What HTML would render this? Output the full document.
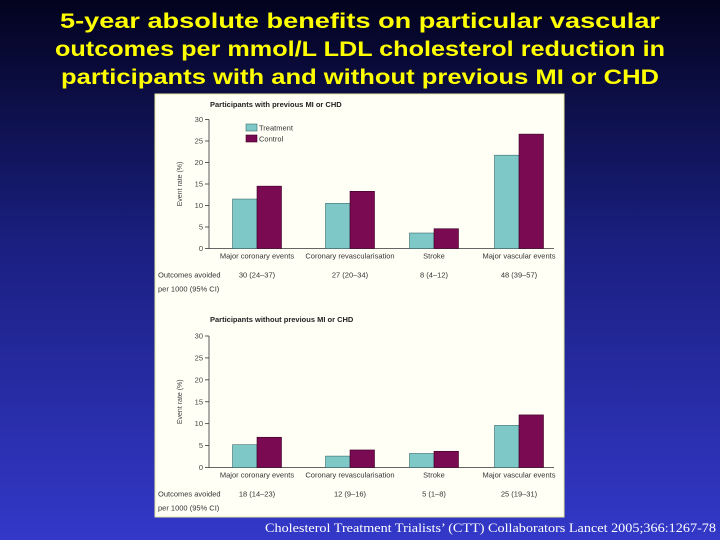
<!DOCTYPE html>
<html><head><meta charset="utf-8"><style>
body{margin:0;width:720px;height:540px;overflow:hidden;}
svg{display:block;font-family:"Liberation Sans",sans-serif;}
</style></head><body>
<svg id="s" width="720" height="540" viewBox="0 0 720 540">
<defs><linearGradient id="bg" x1="0" y1="0" x2="0" y2="1">
<stop offset="0" stop-color="#03031e"/><stop offset="0.45" stop-color="#1a1f80"/><stop offset="1" stop-color="#3338c8"/></linearGradient></defs>
<rect width="720" height="540" fill="url(#bg)"/>
<g fill="#ffff00" font-weight="bold" font-size="21" text-anchor="middle">
<text x="360" y="28" textLength="600" lengthAdjust="spacingAndGlyphs">5-year  absolute  benefits  on  particular  vascular</text>
<text x="360" y="56" textLength="610" lengthAdjust="spacingAndGlyphs">outcomes per mmol/L LDL cholesterol reduction in</text>
<text x="360" y="84" textLength="598" lengthAdjust="spacingAndGlyphs">participants with and without previous MI or CHD</text>
</g>
<rect x="155" y="94" width="409" height="423" fill="#fffff6" stroke="#e8e8a0"/>
<g id="charts"></g>
<text x="716" y="532" text-anchor="end" fill="#ffffff" font-family="Liberation Serif,serif" font-size="13" textLength="451" lengthAdjust="spacingAndGlyphs">Cholesterol Treatment Trialists’ (CTT) Collaborators  Lancet 2005;366:1267-78</text>
</svg>
<script>
const categories=["Major coronary events","Coronary revascularisation","Stroke","Major vascular events"];
const yTicks=[0,5,10,15,20,25,30];
const treatWith=[11.5,10.5,3.6,21.7];
const controlWith=[14.5,13.3,4.6,26.6];
const avoidedWith=["30 (24–37)","27 (20–34)","8 (4–12)","48 (39–57)"];
const treatWithout=[5.2,2.6,3.2,9.6];
const controlWithout=[6.9,4.0,3.7,12.0];
const avoidedWithout=["18 (14–23)","12 (9–16)","5 (1–8)","25 (19–31)"];
const NS="http://www.w3.org/2000/svg";
const root=document.getElementById('charts');
function mk(tag,attrs,parent,text){const e=document.createElementNS(NS,tag);for(const k in attrs)e.setAttribute(k,attrs[k]);if(text!==undefined)e.textContent=text;parent.appendChild(e);return e;}
const centers=[257,350,434,519];
function drawChart(title,treat,control,avoided,y0,y30,titleY,legend,key){
  const g=mk('g',{},root);
  
  
  const ys=v=>y0-(y0-y30)*v/30;
  const t=mk('text',{x:210,y:titleY,'font-size':7.5,'font-weight':'bold',fill:'#222'},g,title);
  
  
  const ax=mk('line',{x1:209,y1:y30,x2:209,y2:y0,stroke:'#333','stroke-width':0.8},g);
  
  
  const xa=mk('line',{x1:209,y1:y0,x2:554,y2:y0,stroke:'#333','stroke-width':0.8},g);
  
  
  yTicks.forEach(v=>{
    const tl=mk('line',{x1:205,y1:ys(v),x2:209,y2:ys(v),stroke:'#333','stroke-width':0.8},g);
    
    
    const tx=mk('text',{x:203,y:ys(v)+2.5,'font-size':7.5,fill:'#444','text-anchor':'end'},g,String(v));
    
    
  });
  const yt=mk('text',{x:0,y:0,'font-size':7,fill:'#444','text-anchor':'middle',transform:`translate(182,${(y0+y30)/2}) rotate(-90)`},g,'Event rate (%)');
  
  
  const bw=24.5;
  categories.forEach((c,i)=>{
    const cx=centers[i];
    const b1=mk('rect',{x:cx-bw,y:ys(treat[i]),width:bw,height:y0-ys(treat[i]),fill:'#7ec8c8',stroke:'#3a6a6a','stroke-width':0.6},g);
    
    
    const b2=mk('rect',{x:cx,y:ys(control[i]),width:bw,height:y0-ys(control[i]),fill:'#7a0a52',stroke:'#3a0026','stroke-width':0.6},g);
    
    
    const cl=mk('text',{x:cx,y:y0+10,'font-size':7.5,fill:'#333','text-anchor':'middle'},g,c);
    
    
    const av=mk('text',{x:cx,y:y0+29,'font-size':7.5,fill:'#333','text-anchor':'middle'},g,avoided[i]);
    
    
  });
  const o1=mk('text',{x:158,y:y0+29,'font-size':7.5,fill:'#333'},g,'Outcomes avoided');
  
  
  const o2=mk('text',{x:158,y:y0+43,'font-size':7.5,fill:'#333'},g,'per 1000 (95% CI)');
  
  
  if(legend){
    const l1=mk('rect',{x:246,y:124,width:11,height:7,fill:'#7ec8c8',stroke:'#3a6a6a','stroke-width':0.6},g);
    
    
    const lt1=mk('text',{x:259,y:130.5,'font-size':7.5,fill:'#333'},g,'Treatment');
    
    
    const l2=mk('rect',{x:246,y:135,width:11,height:7,fill:'#7a0a52',stroke:'#3a0026','stroke-width':0.6},g);
    
    
    const lt2=mk('text',{x:259,y:141.5,'font-size':7.5,fill:'#333'},g,'Control');
    
    
  }
}
drawChart('Participants with previous MI or CHD',treatWith,controlWith,avoidedWith,248.5,119.5,107,true,'with-mi');
drawChart('Participants without previous MI or CHD',treatWithout,controlWithout,avoidedWithout,467.5,336,322,false,'without-mi');
</script>
</body></html>
